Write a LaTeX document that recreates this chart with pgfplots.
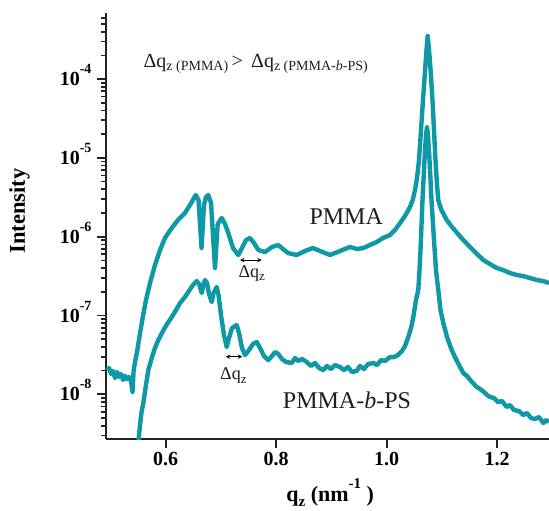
\documentclass[border=0pt]{standalone}
\usepackage{fontspec}
\setmainfont{Liberation Serif}
\usepackage{pgfplots}
\pgfplotsset{compat=1.18}
\definecolor{curve}{RGB}{15,152,166}
\definecolor{axgray}{RGB}{35,35,35}
\definecolor{txt}{RGB}{30,30,30}
\newcommand{\tl}[1]{10\smash{\raisebox{0.6em}{\fontsize{14}{14}\selectfont #1}}}
\begin{document}
\begin{tikzpicture}
\useasboundingbox (-106pt,-72pt) rectangle (443pt,439pt);
\begin{axis}[
  scale only axis, width=443pt, height=426pt,
  at={(0pt,0pt)}, anchor=south west,
  xmin=0.4919, xmax=1.2938,
  ymode=log, ymin=2.71e-9, ymax=6.90e-4,
  axis lines*=left,
  axis line style={line width=2.6pt, axgray},
  tick align=outside,
  major tick length=9pt, minor tick length=5pt,
  every tick/.style={line width=1.7pt, axgray},
  xtick={0.6,0.8,1.0,1.2},
  xticklabels={0.6,0.8,1.0,1.2},
  ytick={1e-8,1e-7,1e-6,1e-5,1e-4},
  yticklabels={\tl{-8},\tl{-7},\tl{-6},\tl{-5},\tl{-4}},
  minor ytick={3e-9,4e-9,5e-9,6e-9,7e-9,8e-9,9e-9,
    2e-8,3e-8,4e-8,5e-8,6e-8,7e-8,8e-8,9e-8,
    2e-7,3e-7,4e-7,5e-7,6e-7,7e-7,8e-7,9e-7,
    2e-6,3e-6,4e-6,5e-6,6e-6,7e-6,8e-6,9e-6,
    2e-5,3e-5,4e-5,5e-5,6e-5,7e-5,8e-5,9e-5,
    2e-4,3e-4,4e-4,5e-4,6e-4},
  ticklabel style={font=\fontsize{20}{24}\selectfont\bfseries, text=black},
  yticklabel style={xshift=-2pt},
  xticklabel style={yshift=-1pt},
  xlabel={q\raisebox{-0.25em}{\fontsize{15}{15}\selectfont z} (nm\raisebox{0.6em}{\fontsize{15}{15}\selectfont -1} )},
  ylabel={Intensity},
  xlabel style={font=\fontsize{22}{26}\selectfont\bfseries, at={(rel axis cs:0.506,-0.126)}, anchor=center},
  ylabel style={font=\fontsize{22.5}{26}\selectfont\bfseries, at={(rel axis cs:-0.195,0.535)}, anchor=center},
  clip=true,
]
\addplot[curve, line width=4.4pt, line join=round] coordinates {
(0.4938,2.03e-8)(0.4974,2.16e-8)(0.5010,1.81e-8)(0.5046,1.98e-8)(0.5082,1.61e-8)
(0.5119,1.92e-8)(0.5155,1.66e-8)(0.5191,1.81e-8)(0.5227,1.52e-8)(0.5263,1.71e-8)
(0.5299,1.56e-8)(0.5336,1.66e-8)(0.5372,1.48e-8)(0.5399,1.07e-8)(0.5417,1.92e-8)
(0.5444,2.57e-8)(0.5481,3.44e-8)(0.5535,6.00e-8)(0.5589,9.86e-8)(0.5643,1.57e-7)
(0.5716,2.58e-7)(0.5806,4.37e-7)(0.5897,6.78e-7)(0.5987,9.63e-7)(0.6109,1.29e-6)
(0.6223,1.63e-6)(0.6349,2.00e-6)(0.6440,2.53e-6)(0.6543,3.38e-6)(0.6594,2.92e-6)
(0.6648,7.19e-7)(0.6693,2.53e-6)(0.6729,3.19e-6)(0.6771,3.38e-6)(0.6820,2.68e-6)
(0.6892,4.01e-7)(0.6941,1.45e-6)(0.7014,1.73e-6)(0.7073,1.45e-6)(0.7133,1.11e-6)
(0.7218,7.19e-7)(0.7314,5.86e-7)(0.7399,7.62e-7)(0.7453,9.08e-7)(0.7526,9.63e-7)
(0.7598,8.32e-7)(0.7676,6.78e-7)(0.7797,6.39e-7)(0.7924,7.40e-7)(0.8038,7.85e-7)
(0.8123,6.98e-7)(0.8214,6.21e-7)(0.8371,5.86e-7)(0.8521,6.59e-7)(0.8666,7.19e-7)
(0.8793,6.59e-7)(0.8974,5.86e-7)(0.9155,6.59e-7)(0.9336,7.40e-7)(0.9463,6.98e-7)
(0.9577,7.19e-7)(0.9698,7.85e-7)(0.9819,8.56e-7)(0.9933,9.63e-7)(1.0060,1.05e-6)
(1.0150,1.22e-6)(1.0241,1.49e-6)(1.0331,1.83e-6)(1.0422,2.38e-6)(1.0476,3.01e-6)
(1.0512,3.91e-6)(1.0549,5.56e-6)(1.0585,9.41e-6)(1.0621,2.26e-5)(1.0657,5.43e-5)
(1.0693,1.23e-4)(1.0720,2.34e-4)(1.0742,3.52e-4)(1.0766,2.34e-4)(1.0797,1.23e-4)
(1.0829,5.43e-5)(1.0856,2.26e-5)(1.0883,9.41e-6)(1.0911,4.53e-6)(1.0934,2.92e-6)
(1.0983,2.25e-6)(1.1086,1.63e-6)(1.1182,1.33e-6)(1.1291,1.08e-6)(1.1387,9.08e-7)
(1.1508,7.40e-7)(1.1635,6.03e-7)(1.1749,5.06e-7)(1.1870,4.50e-7)(1.1991,4.01e-7)
(1.2105,3.78e-7)(1.2232,3.46e-7)(1.2353,3.27e-7)(1.2467,3.17e-7)(1.2594,2.99e-7)
(1.2721,2.82e-7)(1.2829,2.74e-7)(1.2938,2.58e-7)
};
\addplot[curve, line width=4.4pt, line join=round] coordinates {
(0.5504,2.48e-9)(0.5535,4.08e-9)(0.5562,5.96e-9)(0.5595,7.75e-9)(0.5634,1.20e-8)
(0.5685,2.03e-8)(0.5752,2.97e-8)(0.5806,3.87e-8)(0.5866,4.89e-8)(0.5951,6.36e-8)
(0.6024,7.80e-8)(0.6109,9.57e-8)(0.6186,1.17e-7)(0.6259,1.44e-7)(0.6349,1.72e-7)
(0.6422,2.05e-7)(0.6494,2.44e-7)(0.6561,2.74e-7)(0.6603,2.51e-7)(0.6652,1.93e-7)
(0.6684,2.51e-7)(0.6711,2.82e-7)(0.6748,2.58e-7)(0.6784,1.87e-7)(0.6833,1.48e-7)
(0.6865,1.93e-7)(0.6923,2.30e-7)(0.6956,1.82e-7)(0.7001,1.01e-7)(0.7055,5.66e-8)
(0.7104,3.98e-8)(0.7146,5.18e-8)(0.7200,6.94e-8)(0.7285,7.57e-8)(0.7327,6.00e-8)
(0.7381,3.87e-8)(0.7435,3.15e-8)(0.7508,3.65e-8)(0.7580,4.35e-8)(0.7647,4.61e-8)
(0.7707,3.87e-8)(0.7779,3.06e-8)(0.7857,2.72e-8)(0.7924,3.06e-8)(0.7978,3.44e-8)
(0.8038,3.25e-8)(0.8105,2.81e-8)(0.8177,2.57e-8)(0.8281,2.50e-8)(0.8340,2.89e-8)
(0.8395,2.65e-8)(0.8467,2.81e-8)(0.8552,2.57e-8)(0.8630,2.29e-8)(0.8702,2.50e-8)
(0.8775,2.16e-8)(0.8853,2.03e-8)(0.8920,2.29e-8)(0.8992,2.09e-8)(0.9064,2.35e-8)
(0.9155,2.22e-8)(0.9227,2.03e-8)(0.9300,2.22e-8)(0.9372,1.92e-8)(0.9457,1.98e-8)
(0.9517,2.29e-8)(0.9589,2.09e-8)(0.9662,2.42e-8)(0.9758,2.50e-8)(0.9825,2.35e-8)
(0.9897,2.72e-8)(0.9969,2.65e-8)(1.0060,2.97e-8)(1.0132,2.97e-8)(1.0205,3.15e-8)
(1.0277,3.54e-8)(1.0331,4.10e-8)(1.0391,5.34e-8)(1.0440,6.94e-8)(1.0482,9.57e-8)
(1.0530,1.57e-7)(1.0572,2.11e-7)(1.0594,3.78e-7)(1.0612,6.78e-7)(1.0648,2.92e-6)
(1.0684,9.41e-6)(1.0711,1.95e-5)(1.0729,2.47e-5)(1.0747,1.95e-5)(1.0775,9.41e-6)
(1.0811,2.92e-6)(1.0856,9.08e-7)(1.0892,3.78e-7)(1.0934,2.11e-7)(1.0974,1.17e-7)
(1.1025,8.03e-8)(1.1092,5.34e-8)(1.1177,3.65e-8)(1.1236,2.97e-8)(1.1309,2.35e-8)
(1.1387,1.86e-8)(1.1454,1.71e-8)(1.1526,1.48e-8)(1.1629,1.24e-8)(1.1689,1.17e-8)
(1.1761,1.07e-8)(1.1816,9.80e-9)(1.1870,9.24e-9)(1.1942,8.97e-9)(1.2015,7.98e-9)
(1.2087,8.22e-9)(1.2172,6.90e-9)(1.2232,7.31e-9)(1.2304,6.32e-9)(1.2395,6.14e-9)
(1.2473,5.46e-9)(1.2540,5.79e-9)(1.2612,5.00e-9)(1.2684,4.86e-9)(1.2757,5.15e-9)
(1.2835,4.32e-9)(1.2884,4.72e-9)(1.2938,4.45e-9)
};
% annotations
\node[anchor=base west, inner sep=0pt, text=txt, font=\fontsize{20}{24}\selectfont]
  at (axis cs:0.5595,1.42e-4)
  {Δq\raisebox{-0.35ex}{\fontsize{14}{16}\selectfont z (PMMA)}\,{>}\, Δq\raisebox{-0.35ex}{\fontsize{14}{16}\selectfont z (PMMA-\textit{b}-PS)}};
\node[anchor=base west, inner sep=0pt, text=txt, font=\fontsize{24}{28}\selectfont]
  at (axis cs:0.8599,1.41e-6) {PMMA};
\node[anchor=base west, inner sep=0pt, text=txt, font=\fontsize{24}{28}\selectfont]
  at (axis cs:0.8118,6.64e-9) {PMMA-\textit{b}-PS};
\draw[<->, >=stealth, line width=1pt, black] (axis cs:0.7345,5.06e-7) -- (axis cs:0.7738,5.06e-7);
\node[anchor=base west, inner sep=0pt, text=txt, font=\fontsize{18}{22}\selectfont]
  at (axis cs:0.7314,3.05e-7) {Δq\raisebox{-0.4ex}{\fontsize{13}{15}\selectfont z}};
\draw[<->, >=stealth, line width=1pt, black] (axis cs:0.7086,3.00e-8) -- (axis cs:0.7386,3.00e-8);
\node[anchor=base west, inner sep=0pt, text=txt, font=\fontsize{18}{22}\selectfont]
  at (axis cs:0.6983,1.52e-8) {Δq\raisebox{-0.4ex}{\fontsize{13}{15}\selectfont z}};
\end{axis}
\end{tikzpicture}
\end{document}
